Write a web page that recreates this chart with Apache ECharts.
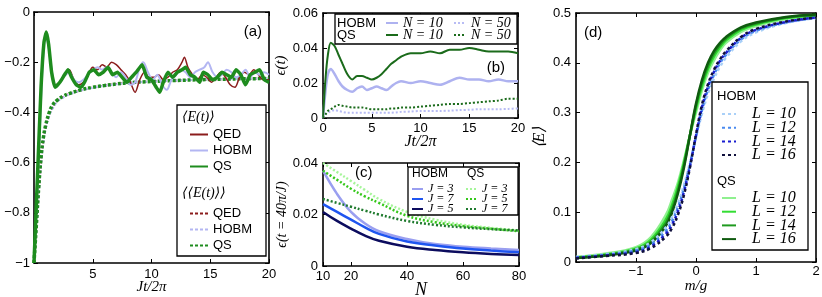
<!DOCTYPE html>
<html><head><meta charset="utf-8">
<script src="https://cdn.jsdelivr.net/npm/echarts@6/dist/echarts.min.js"></script>
<style>html,body{margin:0;padding:0;background:#fff}#c{width:822px;height:297px}</style>
</head><body><div id="c"></div><script>
// ---------- Panel (a) data ----------
const tA_QED = [0,0.3,0.6,0.85,1.05,1.25,1.5,1.8,2.2,2.6,3.0,3.4,3.8,4.2,4.6,5.0,5.4,5.8,6.2,6.6,7.0,7.4,7.8,8.2,8.6,9.0,9.4,9.8,10.2,10.6,11.0,11.4,11.8,12.2,12.6,12.8,13.1,13.5,13.9,14.3,14.7,15.1,15.5,15.9,16.3,16.7,17.1,17.5,17.9,18.3,18.7,19.1,19.5,20];
const yA_QED = [-1,-0.65,-0.3,-0.12,-0.08,-0.13,-0.24,-0.29,-0.28,-0.25,-0.23,-0.27,-0.29,-0.28,-0.25,-0.22,-0.23,-0.21,-0.22,-0.20,-0.21,-0.23,-0.25,-0.28,-0.32,-0.27,-0.24,-0.26,-0.26,-0.25,-0.27,-0.26,-0.24,-0.23,-0.20,-0.18,-0.22,-0.25,-0.27,-0.25,-0.26,-0.28,-0.26,-0.24,-0.26,-0.29,-0.30,-0.26,-0.24,-0.25,-0.23,-0.25,-0.27,-0.27];
const tA_HOBM = [0,0.3,0.6,0.85,1.05,1.3,1.6,1.9,2.3,2.7,3.0,3.4,3.8,4.2,4.6,5.0,5.4,5.8,6.2,6.6,7.0,7.4,7.8,8.2,8.6,9.0,9.3,9.7,10.1,10.5,10.9,11.3,11.7,12.1,12.5,12.9,13.3,13.7,14.1,14.5,14.8,15.2,15.6,16.0,16.4,16.8,17.2,17.6,18.0,18.4,18.8,19.2,19.6,20];
const yA_HOBM = [-1,-0.7,-0.35,-0.13,-0.1,-0.16,-0.26,-0.3,-0.27,-0.25,-0.24,-0.27,-0.28,-0.27,-0.25,-0.23,-0.22,-0.23,-0.22,-0.24,-0.26,-0.24,-0.26,-0.29,-0.28,-0.22,-0.20,-0.24,-0.27,-0.25,-0.29,-0.31,-0.27,-0.25,-0.23,-0.24,-0.26,-0.24,-0.23,-0.22,-0.20,-0.24,-0.26,-0.25,-0.23,-0.24,-0.26,-0.25,-0.23,-0.26,-0.24,-0.25,-0.24,-0.25];
const tA_QS = [0,0.3,0.6,0.85,1.05,1.25,1.5,1.8,2.2,2.6,2.9,3.2,3.6,4.0,4.3,4.7,5.1,5.5,5.9,6.3,6.7,7.1,7.5,7.9,8.3,8.7,9.2,9.6,10.0,10.4,10.7,11.0,11.4,11.8,12.2,12.6,12.9,13.3,13.7,14.1,14.4,14.8,15.2,15.6,16.0,16.4,16.8,17.2,17.6,18.0,18.4,18.8,19.2,19.6,20];
const yA_QS = [-1,-0.65,-0.3,-0.12,-0.08,-0.13,-0.24,-0.3,-0.28,-0.25,-0.23,-0.26,-0.29,-0.30,-0.28,-0.24,-0.23,-0.25,-0.24,-0.22,-0.25,-0.24,-0.26,-0.28,-0.26,-0.24,-0.21,-0.26,-0.27,-0.30,-0.32,-0.28,-0.24,-0.26,-0.24,-0.23,-0.22,-0.25,-0.26,-0.28,-0.24,-0.25,-0.27,-0.26,-0.24,-0.25,-0.26,-0.23,-0.25,-0.29,-0.25,-0.24,-0.23,-0.27,-0.28];
const tA_avg = [0,0.2,0.4,0.6,0.8,1.0,1.3,1.6,2.0,2.5,3,4,5,6,7,8,10,12,14,16,18,20];
const yA_avgQED  = [-1,-0.86,-0.72,-0.6,-0.51,-0.46,-0.41,-0.38,-0.355,-0.338,-0.327,-0.312,-0.301,-0.293,-0.287,-0.282,-0.277,-0.273,-0.27,-0.268,-0.266,-0.265];
const yA_avgHOBM = [-1,-0.87,-0.73,-0.61,-0.52,-0.465,-0.415,-0.383,-0.357,-0.34,-0.328,-0.313,-0.302,-0.294,-0.288,-0.283,-0.277,-0.273,-0.27,-0.268,-0.266,-0.265];
const yA_avgQS   = [-1,-0.85,-0.7,-0.58,-0.5,-0.45,-0.40,-0.37,-0.35,-0.335,-0.325,-0.31,-0.30,-0.293,-0.287,-0.282,-0.277,-0.273,-0.27,-0.268,-0.266,-0.265];
// ---------- Panel (b) data ----------
const tB = [0,0.25,0.5,0.8,1.2,1.6,2,2.5,3,3.5,4,4.5,5,5.5,6,6.5,7,7.5,8,9,10,11,12,13,14,15,16,17,18,19,20];
const eB_HOBM10 = [0,0.015,0.025,0.028,0.025,0.021,0.018,0.016,0.015,0.017,0.018,0.016,0.017,0.018,0.017,0.016,0.018,0.020,0.021,0.020,0.021,0.020,0.019,0.021,0.023,0.022,0.022,0.021,0.022,0.021,0.021];
const eB_QS10    = [0,0.022,0.036,0.043,0.041,0.036,0.031,0.025,0.022,0.024,0.024,0.023,0.022,0.023,0.025,0.028,0.031,0.033,0.035,0.037,0.037,0.038,0.037,0.039,0.039,0.040,0.039,0.038,0.038,0.038,0.037];
const eB_HOBM50 = [0,0.002,0.003,0.004,0.0045,0.004,0.0035,0.003,0.003,0.003,0.003,0.003,0.003,0.003,0.003,0.003,0.003,0.0032,0.0035,0.0037,0.004,0.004,0.004,0.0042,0.0045,0.0047,0.005,0.005,0.005,0.0052,0.0055];
const eB_QS50    = [0,0.002,0.004,0.005,0.0065,0.0075,0.007,0.0065,0.006,0.006,0.006,0.0055,0.005,0.005,0.005,0.005,0.0055,0.0055,0.006,0.006,0.0065,0.007,0.0075,0.008,0.008,0.0085,0.009,0.0095,0.010,0.011,0.011];
// ---------- Panel (c) data ----------
const nC = [10,15,20,25,30,40,50,60,70,80];
const nC_ticks = [10,20,40,60,80];
const eC_HOBM_J3 = [0.037,0.028,0.021,0.0165,0.0135,0.0105,0.0085,0.0075,0.0068,0.0062];
const eC_HOBM_J7 = [0.024,0.021,0.018,0.015,0.0125,0.0095,0.008,0.0068,0.006,0.0053];
const eC_HOBM_J5 = [0.021,0.0175,0.0145,0.0118,0.0098,0.0075,0.0062,0.0053,0.0047,0.0043];
const eC_QS_J3 = [0.040,0.0365,0.033,0.0295,0.026,0.021,0.018,0.016,0.0148,0.0138];
const eC_QS_J5 = [0.037,0.0335,0.030,0.027,0.0245,0.0195,0.017,0.0155,0.0145,0.0135];
const eC_QS_J7 = [0.026,0.0245,0.023,0.0215,0.020,0.0175,0.016,0.015,0.0143,0.0138];
// ---------- Panel (d) data ----------
const mD = [-2,-1.5,-1,-0.75,-0.5,-0.4,-0.3,-0.2,-0.1,0,0.1,0.2,0.3,0.4,0.5,0.75,1,1.5,2];
const eD_QS10 = [0.010,0.017,0.030,0.050,0.095,0.125,0.160,0.205,0.255,0.300,0.345,0.380,0.405,0.425,0.440,0.462,0.474,0.488,0.494];
const eD_QS12 = [0.009,0.015,0.027,0.045,0.086,0.114,0.152,0.200,0.255,0.308,0.353,0.388,0.413,0.431,0.445,0.466,0.477,0.490,0.495];
const eD_QS14 = [0.008,0.014,0.025,0.041,0.079,0.106,0.144,0.195,0.255,0.314,0.360,0.394,0.419,0.436,0.449,0.469,0.479,0.491,0.496];
const eD_QS16 = [0.008,0.013,0.023,0.038,0.073,0.099,0.138,0.190,0.255,0.318,0.366,0.400,0.424,0.440,0.452,0.471,0.481,0.492,0.497];
const eD_HOBM10 = [0.010,0.016,0.026,0.040,0.070,0.090,0.118,0.155,0.200,0.250,0.298,0.338,0.368,0.392,0.410,0.443,0.461,0.480,0.490];
const eD_HOBM12 = [0.009,0.014,0.023,0.035,0.063,0.082,0.110,0.148,0.196,0.252,0.305,0.346,0.376,0.399,0.416,0.447,0.464,0.481,0.490];
const eD_HOBM14 = [0.008,0.013,0.020,0.031,0.057,0.075,0.102,0.141,0.193,0.254,0.311,0.352,0.382,0.404,0.420,0.450,0.466,0.482,0.491];
const eD_HOBM16 = [0.007,0.012,0.018,0.028,0.051,0.068,0.095,0.135,0.190,0.256,0.316,0.357,0.386,0.407,0.423,0.452,0.468,0.483,0.491];

const zip = (xs, ys) => xs.map((x, i) => [x, ys[i]]);
const SANS = 'Liberation Sans';
const SERIF = 'Liberation Serif';
const minus = v => (v < 0 ? '\u2212' : '') + String(+Math.abs(v).toFixed(2));

const grids = [], xAxes = [], yAxes = [];
function panel(rect, xc, yc) {
  const gi = grids.length;
  grids.push({left: rect[0], top: rect[1], width: rect[2] - rect[0], height: rect[3] - rect[1], show: false, containLabel: false, outerBoundsMode: 'none'});
  const base = {
    gridIndex: gi, type: 'value',
    axisLine: {show: true, onZero: false, lineStyle: {color: '#000', width: 1.6}},
    axisTick: {show: true, inside: true, length: 4, lineStyle: {color: '#000', width: 1}},
    splitLine: {show: false},
    axisLabel: {color: '#000', fontFamily: SANS, fontSize: 13}
  };
  const mk = (c, pos, labels) => {
    const a = Object.assign({}, base, {min: c.min, max: c.max, interval: c.interval, position: pos});
    a.axisTick = Object.assign({}, base.axisTick, c.tickValues ? {customValues: c.tickValues} : {});
    if (labels) {
      a.axisLabel = Object.assign({}, base.axisLabel, c.label || {});
      if (c.tickValues) a.axisLabel.customValues = c.tickValues;
      if (c.name) {
        a.name = c.name; a.nameLocation = 'middle'; a.nameGap = c.nameGap;
        a.nameMoveOverlap = false;
        a.nameTextStyle = Object.assign({color: '#000', fontFamily: SERIF, fontStyle: 'italic', fontSize: 16}, c.nameStyle || {});
      }
    } else {
      a.axisLabel = {show: false};
    }
    return a;
  };
  const xi = xAxes.length, yi = yAxes.length;
  xAxes.push(mk(xc, 'bottom', true));
  xAxes.push(mk(xc, 'top', false));
  yAxes.push(mk(yc, 'left', true));
  yAxes.push(mk(yc, 'right', false));
  return {xi, yi};
}

const pA = panel([34, 12, 269, 263],
  {min: 0, max: 20, interval: 5, label: {formatter: v => v === 0 ? '' : String(v), margin: 5}, name: 'Jt/2\u03c0', nameGap: 17, nameStyle: {fontSize: 15}},
  {min: -1, max: 0, interval: 0.2, label: {formatter: minus, margin: 4}});
const pB = panel([323, 13, 518, 118],
  {min: 0, max: 20, interval: 5, label: {margin: 4}, name: 'Jt/2\u03c0', nameGap: 16},
  {min: 0, max: 0.06, interval: 0.02, label: {margin: 5}, name: '\u03f5(t)', nameGap: 34, nameStyle: {fontSize: 15}});
const pC = panel([323, 163, 519, 266],
  {min: 10, max: 80, tickValues: nC_ticks, label: {margin: 4}, name: 'N', nameGap: 15, nameStyle: {fontSize: 18}},
  {min: 0, max: 0.04, interval: 0.02, label: {margin: 5}, name: '\u03f5(t = 40\u03c0/J)', nameGap: 34, nameStyle: {fontSize: 14}});
const pD = panel([576, 13, 816, 262],
  {min: -2, max: 2, interval: 1, label: {formatter: v => v === -2 ? '' : minus(v), margin: 3}, name: 'm/g', nameGap: 17, nameStyle: {fontSize: 15}},
  {min: 0, max: 0.5, interval: 0.1, label: {margin: 5}, name: '\u27e8E\u27e9', nameGap: 28, nameStyle: {fontSize: 16}});

const series = [];
function line(p, name, data, color, width, dash, smooth) {
  series.push({
    type: 'line', name, xAxisIndex: p.xi, yAxisIndex: p.yi, data, symbol: 'none',
    smooth: smooth === undefined ? 0.3 : smooth, animation: false,
    lineStyle: {color, width, type: dash || 'solid'}, itemStyle: {color}
  });
}
const cQED = '#8b1c1c', cHOBM = '#b3b6f2', cQS = '#1e8c1e';
// (a)
line(pA, 'QED avg', zip(tA_avg, yA_avgQED), cQED, 2, [3, 2], 0.5);
line(pA, 'HOBM avg', zip(tA_avg, yA_avgHOBM), cHOBM, 2, [3, 2], 0.5);
line(pA, 'QS avg', zip(tA_avg, yA_avgQS), cQS, 3.5, [3, 2], 0.5);
line(pA, 'QED', zip(tA_QED, yA_QED), cQED, 1.5);
line(pA, 'HOBM', zip(tA_HOBM, yA_HOBM), cHOBM, 2);
line(pA, 'QS', zip(tA_QS, yA_QS), cQS, 3.5, null, 0.15);
// (b)
line(pB, 'HOBM N10', zip(tB, eB_HOBM10), '#aeb2f0', 2.5);
line(pB, 'QS N10', zip(tB, eB_QS10), '#1b6b1b', 2);
line(pB, 'HOBM N50', zip(tB, eB_HOBM50), '#b8bcf4', 2, [2, 2]);
line(pB, 'QS N50', zip(tB, eB_QS50), '#1b6b1b', 2, [2, 2]);
// (c)
line(pC, 'HOBM J3', zip(nC, eC_HOBM_J3), '#9a9ff0', 2.5, null, 0.4);
line(pC, 'HOBM J7', zip(nC, eC_HOBM_J7), '#1f55f0', 2.5, null, 0.4);
line(pC, 'HOBM J5', zip(nC, eC_HOBM_J5), '#0c0c5e', 2.5, null, 0.4);
line(pC, 'QS J3', zip(nC, eC_QS_J3), '#a6f59a', 2.5, [2, 2], 0.4);
line(pC, 'QS J5', zip(nC, eC_QS_J5), '#35c81a', 2.5, [2, 2], 0.4);
line(pC, 'QS J7', zip(nC, eC_QS_J7), '#1f7a2e', 2.5, [2, 2], 0.4);
// (d)
line(pD, 'QS L10', zip(mD, eD_QS10), '#8ff08f', 2.5, null, 0.4);
line(pD, 'QS L12', zip(mD, eD_QS12), '#33dd33', 2.5, null, 0.4);
line(pD, 'QS L14', zip(mD, eD_QS14), '#1f9a1f', 2.5, null, 0.4);
line(pD, 'QS L16', zip(mD, eD_QS16), '#0f5a0f', 2.5, null, 0.4);
line(pD, 'HOBM L10', zip(mD, eD_HOBM10), '#a9d0f8', 2.5, [3, 3], 0.4);
line(pD, 'HOBM L12', zip(mD, eD_HOBM12), '#4a8af0', 2.5, [3, 3], 0.4);
line(pD, 'HOBM L14', zip(mD, eD_HOBM14), '#1a1ed0', 2.5, [3, 3], 0.4);
line(pD, 'HOBM L16', zip(mD, eD_HOBM16), '#10103c', 2.5, [3, 3], 0.4);

const labelMap = {
  'QED': 'QED', 'HOBM': 'HOBM', 'QS': 'QS', 'QED avg': 'QED', 'HOBM avg': 'HOBM', 'QS avg': 'QS',
  'HOBM N10': 'N = 10', 'QS N10': 'N = 10', 'HOBM N50': 'N = 50', 'QS N50': 'N = 50',
  'HOBM J3': 'J = 3', 'HOBM J7': 'J = 7', 'HOBM J5': 'J = 5', 'QS J3': 'J = 3', 'QS J5': 'J = 5', 'QS J7': 'J = 7',
  'QS L10': 'L = 10', 'QS L12': 'L = 12', 'QS L14': 'L = 14', 'QS L16': 'L = 16',
  'HOBM L10': 'L = 10', 'HOBM L12': 'L = 12', 'HOBM L14': 'L = 14', 'HOBM L16': 'L = 16'
};
function legend(data, left, top, o) {
  return Object.assign({
    data, left, top, orient: 'vertical', padding: 0, itemGap: 3, itemWidth: 18, itemHeight: 14,
    formatter: n => labelMap[n], selectedMode: false, z: 10,
    itemStyle: {opacity: 0, color: 'rgba(0,0,0,0)', borderWidth: 0},
    textStyle: {fontFamily: SANS, fontSize: 13, color: '#000'}
  }, o || {});
}
const mathText = (size, lh, pad) => ({fontFamily: SERIF, fontStyle: 'italic', fontSize: size, color: '#000', lineHeight: lh, padding: pad || 0});
const legends = [
  legend(['QED', 'HOBM', 'QS'], 189, 128),
  legend(['QED avg', 'HOBM avg', 'QS avg'], 189, 207),
  legend(['HOBM N10', 'QS N10'], 385, 16, {itemWidth: 12, itemHeight: 11, itemGap: -2, textStyle: mathText(14, 11)}),
  legend(['HOBM N50', 'QS N50'], 453, 16, {itemWidth: 12, itemHeight: 11, itemGap: -2, textStyle: mathText(14, 11)}),
  legend(['HOBM J3', 'HOBM J7', 'HOBM J5'], 411, 183, {itemWidth: 11, itemHeight: 10, itemGap: -2, textStyle: mathText(12, 10)}),
  legend(['QS J3', 'QS J5', 'QS J7'], 465, 183, {itemWidth: 11, itemHeight: 10, itemGap: -2, textStyle: mathText(12, 10)}),
  legend(['HOBM L10', 'HOBM L12', 'HOBM L14', 'HOBM L16'], 721, 106, {itemWidth: 14, itemHeight: 14, itemGap: -2.3, textStyle: mathText(16, 14, [0, 0, 0, 11])}),
  legend(['QS L10', 'QS L12', 'QS L14', 'QS L16'], 721, 190, {itemWidth: 14, itemHeight: 14, itemGap: -2.3, textStyle: mathText(16, 14, [0, 0, 0, 11])})
];

const box = (x, y, w, h) => ({type: 'rect', shape: {x, y, width: w, height: h}, style: {fill: '#fff', stroke: '#000', lineWidth: 1.3}, z: 5});
const txt = (x, y, text, font, align) => ({type: 'text', x, y, z: 11, style: {text, font, fill: '#000', textAlign: align || 'left', textVerticalAlign: 'middle'}});
const graphics = [
  box(177, 105, 89, 151), box(335, 14, 182, 30), box(408, 167, 110, 48), box(712, 82, 96, 168),
  txt(182, 117, '\u27e8E(t)\u27e9', 'italic 14px "Liberation Serif", "DejaVu Serif"'),
  txt(182, 193, '\u27e8\u27e8E(t)\u27e9\u27e9', 'italic 14px "Liberation Serif", "DejaVu Serif"'),
  txt(337, 23, 'HOBM', '13px "Liberation Sans"'),
  txt(337, 35, 'QS', '13px "Liberation Sans"'),
  txt(412, 174, 'HOBM', '12px "Liberation Sans"'),
  txt(467, 174, 'QS', '12px "Liberation Sans"'),
  txt(717, 96, 'HOBM', '13px "Liberation Sans"'),
  txt(717, 181, 'QS', '13px "Liberation Sans"'),
  txt(262, 32, '(a)', '15px "Liberation Sans"', 'right'),
  txt(505, 68, '(b)', '15px "Liberation Sans"', 'right'),
  txt(355, 173, '(c)', '15px "Liberation Sans"'),
  txt(584, 33, '(d)', '15px "Liberation Sans"')
];

const chart = echarts.init(document.getElementById('c'), null, {renderer: 'canvas'});
chart.setOption({
  animation: false, backgroundColor: '#fff',
  grid: grids, xAxis: xAxes, yAxis: yAxes, series, legend: legends, graphic: graphics
});
</script></body></html>
